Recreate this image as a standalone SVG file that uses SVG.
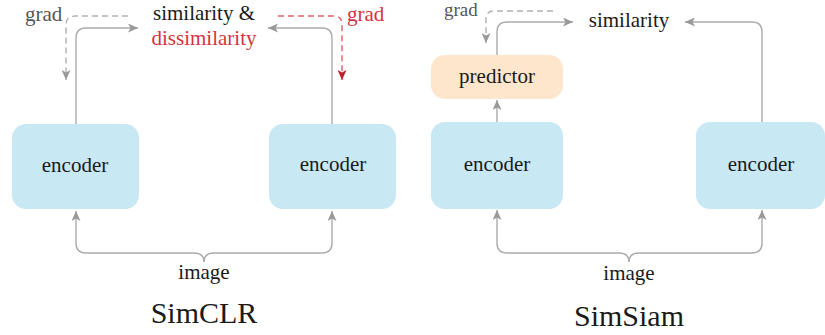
<svg xmlns="http://www.w3.org/2000/svg" width="825" height="335" viewBox="0 0 825 335">
<defs>
<marker id="ag" markerUnits="userSpaceOnUse" markerWidth="11" markerHeight="9" refX="10" refY="4.5" orient="auto"><path d="M0,0 L10,4.5 L0,9 L2.5,4.5 z" fill="#999"/></marker>
<marker id="ar" markerUnits="userSpaceOnUse" markerWidth="11" markerHeight="9" refX="10" refY="4.5" orient="auto"><path d="M0,0 L10,4.5 L0,9 L2.5,4.5 z" fill="#c41e2a"/></marker>
<style>
text{font-family:"Liberation Serif","Times New Roman",serif;font-size:21px;fill:#1a1a1a}
.c{text-anchor:middle}
.t{font-size:30px}
.gg{fill:#555}
.rd{fill:#d43340}
.enc{fill:#c8e9f4}
.pred{fill:#fde6cb}
.ln{fill:none;stroke:#ababab;stroke-width:1.4;marker-end:url(#ag)}
.dg{fill:none;stroke:#b0b0b0;stroke-width:1.4;stroke-dasharray:6,4;marker-end:url(#ag)}
.dr{fill:none;stroke:#e0606a;stroke-width:1.4;stroke-dasharray:6,4;marker-end:url(#ar)}
</style>
</defs>
<g id="connectors">
<path class="ln" d="M76,124 V38 Q76,28 86,28 H138"/>
<path class="ln" d="M332,124 V38 Q332,28 322,28 H268"/>
<path class="dg" d="M128,16 H75 Q66,16 66,25 V80"/>
<path class="dr" d="M278,16 H334 Q342,16 342,24 V80"/>
<path class="ln" d="M204,262 Q204,253 194,253 H86 Q76,253 76,243 V211"/>
<path class="ln" d="M204,262 Q204,253 214,253 H322 Q332,253 332,243 V211"/>
<path class="ln" d="M497,55 V32 Q497,22 507,22 H573"/>
<path class="ln" d="M762,122 V32 Q762,22 752,22 H685"/>
<path class="ln" d="M497,122 V100"/>
<path class="dg" d="M553,11 H494 Q486,11 486,19 V43"/>
<path class="ln" d="M629,262 Q629,253 619,253 H507 Q497,253 497,243 V210"/>
<path class="ln" d="M629,262 Q629,253 639,253 H752 Q762,253 762,243 V210"/>
</g>
<g id="simclr-enc1"><rect class="enc" x="12" y="124" width="127" height="85" rx="14"/><text class="c" x="75" y="172">encoder</text></g>
<g id="simclr-enc2"><rect class="enc" x="269" y="124" width="127" height="85" rx="14"/><text class="c" x="333" y="171">encoder</text></g>
<g id="simclr-sim"><text class="c" x="204" y="20">similarity &amp;</text><text class="c rd" x="204" y="45">dissimilarity</text></g>
<g id="simclr-grad1"><text class="gg" x="25" y="21">grad</text></g>
<g id="simclr-grad2"><text class="rd" x="347" y="21">grad</text></g>
<g id="simclr-image"><text class="c" x="204" y="279">image</text></g>
<g id="simclr-title"><text class="c t" x="204" y="323">SimCLR</text></g>
<g id="simsiam-pred"><rect class="pred" x="431" y="55" width="132" height="44" rx="14"/><text class="c" x="497" y="83">predictor</text></g>
<g id="simsiam-enc1"><rect class="enc" x="431" y="122" width="132" height="87" rx="14"/><text class="c" x="497" y="171">encoder</text></g>
<g id="simsiam-enc2"><rect class="enc" x="696" y="122" width="129" height="87" rx="14"/><text class="c" x="761" y="171">encoder</text></g>
<g id="simsiam-sim"><text class="c" x="629" y="27">similarity</text></g>
<g id="simsiam-grad"><text class="gg" x="444" y="16" style="font-size:19px">grad</text></g>
<g id="simsiam-image"><text class="c" x="629" y="280">image</text></g>
<g id="simsiam-title"><text class="c t" x="629" y="326">SimSiam</text></g>
</svg>
